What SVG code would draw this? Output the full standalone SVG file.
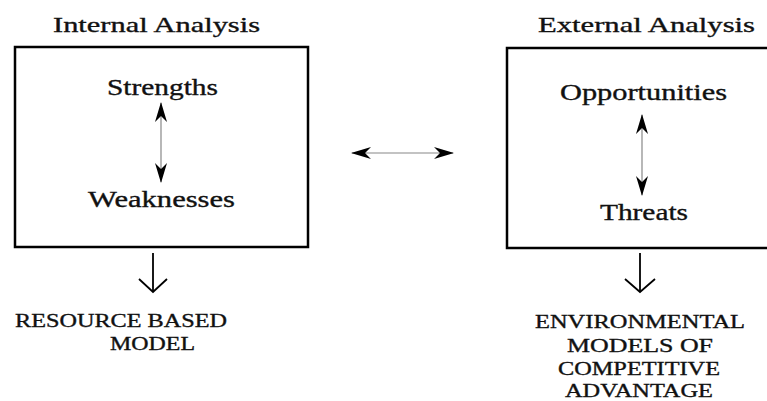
<svg xmlns="http://www.w3.org/2000/svg" width="767" height="401" viewBox="0 0 767 401">
<style>
text{font-family:"Liberation Serif","Times New Roman",serif;fill:#111;stroke:#111;stroke-width:0.35}
.h{font-size:22px}
.t{font-size:23px}
.c{font-size:19px}
.box{fill:none;stroke:#000;stroke-width:2.5}
.thin{stroke:#888;stroke-width:1.2;fill:none}
.down{stroke:#000;stroke-width:1.8;fill:none}
</style>
<defs>
<marker id="ah" viewBox="0 0 20 14" refX="19" refY="7" markerWidth="20" markerHeight="14" markerUnits="userSpaceOnUse" orient="auto-start-reverse">
<path d="M0,1 L20,7 L0,13 L6,7 Z" fill="#000"/>
</marker>
</defs>
<rect width="767" height="401" fill="#fff"/>
<g id="internal">
<text class="h" x="53" y="32" textLength="207" lengthAdjust="spacingAndGlyphs">Internal Analysis</text>
<rect class="box" x="15" y="47" width="293" height="200"/>
<text class="t" x="107" y="95" textLength="111" lengthAdjust="spacingAndGlyphs">Strengths</text>
<text class="t" x="88" y="207" textLength="147" lengthAdjust="spacingAndGlyphs">Weaknesses</text>
</g>
<g id="external">
<text class="h" x="538" y="32" textLength="217" lengthAdjust="spacingAndGlyphs">External Analysis</text>
<rect class="box" x="507" y="48" width="270" height="200"/>
<text class="t" x="560" y="100" textLength="167" lengthAdjust="spacingAndGlyphs">Opportunities</text>
<text class="t" x="600" y="220" textLength="88" lengthAdjust="spacingAndGlyphs">Threats</text>
</g>
<g id="resource">
<text class="c" x="15" y="327" textLength="212" lengthAdjust="spacingAndGlyphs">RESOURCE BASED</text>
<text class="c" x="110" y="350" textLength="85" lengthAdjust="spacingAndGlyphs">MODEL</text>
</g>
<g id="environmental">
<text class="c" x="535" y="328" textLength="210" lengthAdjust="spacingAndGlyphs">ENVIRONMENTAL</text>
<text class="c" x="567" y="352" textLength="146" lengthAdjust="spacingAndGlyphs">MODELS OF</text>
<text class="c" x="558" y="375" textLength="162" lengthAdjust="spacingAndGlyphs">COMPETITIVE</text>
<text class="c" x="565" y="397" textLength="148" lengthAdjust="spacingAndGlyphs">ADVANTAGE</text>
</g>
<g id="connectors">
<line class="thin" x1="161" y1="103" x2="161" y2="182" marker-start="url(#ah)" marker-end="url(#ah)"/>
<line class="thin" x1="642" y1="115" x2="642" y2="195" marker-start="url(#ah)" marker-end="url(#ah)"/>
<line class="thin" x1="352" y1="153" x2="453" y2="153" marker-start="url(#ah)" marker-end="url(#ah)"/>
<line class="down" x1="153" y1="253" x2="153" y2="292"/>
<polyline class="down" points="139,279 153,292 167,279"/>
<line class="down" x1="640" y1="253" x2="640" y2="292"/>
<polyline class="down" points="625,279 640,292 655,279"/>
</g>
</svg>
